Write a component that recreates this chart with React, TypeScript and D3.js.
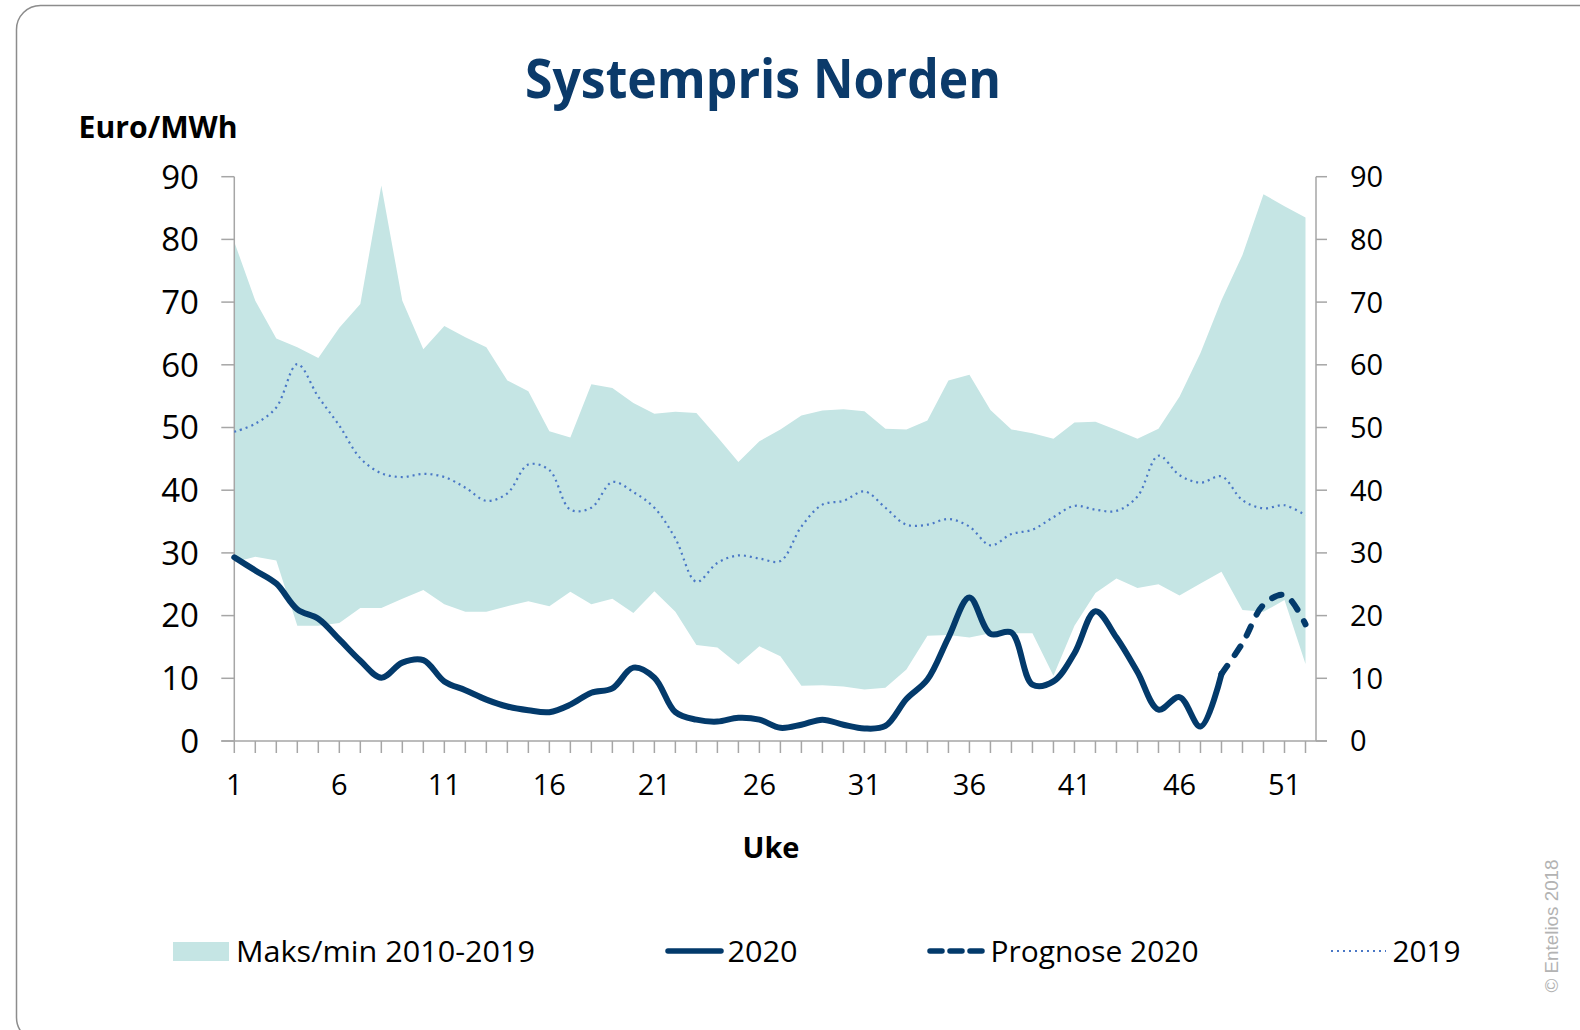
import * as d3 from "d3";

// uke 1..52
const weeks = [
  1, 2, 3, 4, 5, 6, 7, 8, 9, 10, 11, 12, 13, 14, 15, 16, 17, 18, 19, 20, 21, 22, 23, 24, 25, 26,
  27, 28, 29, 30, 31, 32, 33, 34, 35, 36, 37, 38, 39, 40, 41, 42, 43, 44, 45, 46, 47, 48, 49, 50, 51, 52,
];

// Maks/min 2010-2019
const maxPrice = [
  79.6, 70.2, 64.2, 62.8, 61.1, 65.9, 69.7, 88.6, 70.2, 62.5,
  66.2, 64.4, 62.8, 57.5, 55.8, 49.4, 48.4, 56.9, 56.3, 53.9,
  52.2, 52.5, 52.3, 48.5, 44.5, 47.8, 49.7, 51.9, 52.7, 52.9,
  52.6, 49.8, 49.7, 51.1, 57.5, 58.4, 52.8, 49.7, 49.1, 48.2,
  50.8, 50.9, 49.6, 48.2, 49.8, 54.9, 61.9, 70.3, 77.5, 87.2,
  85.3, 83.5,
];
const minPrice = [
  28.5, 29.4, 28.8, 18.4, 18.4, 18.8, 21.2, 21.2, 22.7, 24.1,
  21.8, 20.6, 20.6, 21.5, 22.3, 21.5, 23.8, 21.8, 22.7, 20.4,
  23.9, 20.6, 15.3, 14.9, 12.2, 15.1, 13.5, 8.8, 8.9, 8.7,
  8.2, 8.5, 11.4, 16.8, 16.9, 16.5, 17.2, 17.2, 17.2, 10.4,
  18.4, 23.6, 25.9, 24.4, 25.0, 23.2, 25.1, 27.0, 20.9, 20.6,
  22.5, 12.3,
];

const price2019 = [
  49.3, 50.6, 53.2, 60.1, 54.9, 50.3, 45.1, 42.7, 42.1, 42.6,
  42.1, 40.4, 38.3, 39.5, 44.1, 43.2, 36.9, 37.2, 41.3, 39.7,
  37.2, 32.3, 25.4, 28.4, 29.6, 29.1, 28.7, 34.2, 37.7, 38.3,
  39.8, 37.2, 34.5, 34.5, 35.4, 34.2, 31.2, 33.0, 33.7, 35.7,
  37.5, 36.9, 36.7, 39.0, 45.5, 42.4, 41.2, 42.2, 38.4, 37.1,
  37.6, 36.0,
];

// 2020, uke 1..48
const price2020 = [
  29.3, 27.2, 25.1, 21.0, 19.5, 16.2, 12.8, 10.1, 12.5, 12.9,
  9.5, 8.1, 6.6, 5.5, 4.9, 4.6, 5.8, 7.7, 8.4, 11.7,
  10.1, 4.6, 3.4, 3.1, 3.7, 3.4, 2.1, 2.6, 3.4, 2.6,
  2.0, 2.4, 6.7, 9.8, 16.5, 22.9, 17.1, 17.3, 9.0, 9.5,
  14.0, 20.7, 16.5, 11.0, 5.0, 7.0, 2.3, 10.7,
];

const prognoseWeeks = [48, 49, 50, 51, 52];
const prognose2020 = [10.7, 15.6, 21.7, 23.3, 18.6];

const yTicks = [0, 10, 20, 30, 40, 50, 60, 70, 80, 90];
const xLabels = [1, 6, 11, 16, 21, 26, 31, 36, 41, 46, 51];

const NAVY = "#033a6b";
const BAND = "#c5e5e4";
const DOT = "#4a78c6";
const AXIS = "#a6a6a6";
const FONT = "'Open Sans', sans-serif";

export default function App() {
  const x = d3.scaleLinear().domain([1, 52.5]).range([234.3, 1316]);
  const y = d3.scaleLinear().domain([0, 90]).range([741, 176.7]);

  const band = d3
    .area<number>()
    .x((d) => x(d))
    .y0((d, i) => y(minPrice[i]))
    .y1((d, i) => y(maxPrice[i]));

  const smooth = d3
    .line<[number, number]>()
    .x((d) => x(d[0]))
    .y((d) => y(d[1]))
    .curve(d3.curveCatmullRom);

  const line2019 = smooth(weeks.map((w, i) => [w, price2019[i]]));
  const line2020 = smooth(price2020.map((v, i) => [weeks[i], v]));
  const linePrognose = smooth(prognoseWeeks.map((w, i) => [w, prognose2020[i]]));

  const x0 = x.range()[0];
  const x1 = x.range()[1];
  const yb = y(0);

  return (
    <svg
      width={1580}
      height={1030}
      style={{ position: "absolute", left: 0, top: 0, background: "#fff" }}
      fontFamily={FONT}
    >
      <rect x={16.5} y={5.5} width={1620} height={1036} rx={24} fill="none" stroke="#8c8c8c" strokeWidth={1.5} />

      <text
        x={763}
        y={98}
        textAnchor="middle"
        fontSize={54}
        fontWeight={700}
        fill="#0b3a6a"
        textLength={476}
        lengthAdjust="spacingAndGlyphs"
      >
        Systempris Norden
      </text>

      <text x={78.6} y={138} fontSize={30} fontWeight={700} fill="#000" textLength={159} lengthAdjust="spacingAndGlyphs">
        Euro/MWh
      </text>

      {/* band */}
      <path d={band(weeks) ?? ""} fill={BAND} />

      {/* axes */}
      <g stroke={AXIS} strokeWidth={1.5} fill="none">
        <line x1={x0} y1={y(90)} x2={x0} y2={yb} />
        <line x1={x1} y1={y(90)} x2={x1} y2={yb} />
        <line x1={x0 - 13} y1={yb} x2={x1 + 11} y2={yb} />
        {yTicks.map((t) => (
          <g key={t}>
            <line x1={x0 - 13} x2={x0} y1={y(t)} y2={y(t)} />
            <line x1={x1} x2={x1 + 11} y1={y(t)} y2={y(t)} />
          </g>
        ))}
        {weeks.map((w) => (
          <line key={w} x1={x(w)} x2={x(w)} y1={yb} y2={yb + 12} />
        ))}
      </g>

      {yTicks.map((t) => (
        <text key={"l" + t} x={199} y={y(t)} dy="0.36em" textAnchor="end" fontSize={33} fill="#000">
          {t}
        </text>
      ))}
      {yTicks.map((t) => (
        <text key={"r" + t} x={1350} y={y(t)} dy="0.36em" textAnchor="start" fontSize={29} fill="#000">
          {t}
        </text>
      ))}
      {xLabels.map((w) => (
        <text key={"x" + w} x={x(w)} y={785} dy="0.36em" textAnchor="middle" fontSize={29} fill="#000">
          {w}
        </text>
      ))}

      <text x={771} y={848} dy="0.36em" textAnchor="middle" fontSize={29} fontWeight={700} fill="#000">
        Uke
      </text>

      {/* series */}
      <path d={line2019 ?? ""} fill="none" stroke={DOT} strokeWidth={2.2} strokeDasharray="2 4" />
      <path d={line2020 ?? ""} fill="none" stroke={NAVY} strokeWidth={6} strokeLinejoin="round" strokeLinecap="round" />
      <path
        d={linePrognose ?? ""}
        fill="none"
        stroke={NAVY}
        strokeWidth={6}
        strokeLinecap="round"
        strokeDasharray="10 13"
      />

      {/* legend */}
      <g fontSize={30} fill="#000">
        <rect x={173} y={942} width={56} height={19} fill={BAND} />
        <text x={236} y={951} dy="0.36em" textLength={299} lengthAdjust="spacingAndGlyphs">
          Maks/min 2010-2019
        </text>

        <line x1={668} x2={721} y1={951} y2={951} stroke={NAVY} strokeWidth={5.5} strokeLinecap="round" />
        <text x={727.5} y={951} dy="0.36em" textLength={70} lengthAdjust="spacingAndGlyphs">
          2020
        </text>

        <line
          x1={930}
          x2={984}
          y1={951}
          y2={951}
          stroke={NAVY}
          strokeWidth={5.5}
          strokeLinecap="round"
          strokeDasharray="12 8"
        />
        <text x={990.5} y={951} dy="0.36em" textLength={208} lengthAdjust="spacingAndGlyphs">
          Prognose 2020
        </text>

        <line x1={1331} x2={1386} y1={951} y2={951} stroke={DOT} strokeWidth={2} strokeDasharray="2 4" />
        <text x={1392.6} y={951} dy="0.36em" textLength={68} lengthAdjust="spacingAndGlyphs">
          2019
        </text>
      </g>

      <text
        transform="translate(1551,926) rotate(-90)"
        textAnchor="middle"
        dy="0.36em"
        fontSize={19}
        fontFamily="'Liberation Sans', Arial, sans-serif"
        fill="#b3b3b3"
        textLength={133}
        lengthAdjust="spacingAndGlyphs"
      >
        © Entelios 2018
      </text>
    </svg>
  );
}
